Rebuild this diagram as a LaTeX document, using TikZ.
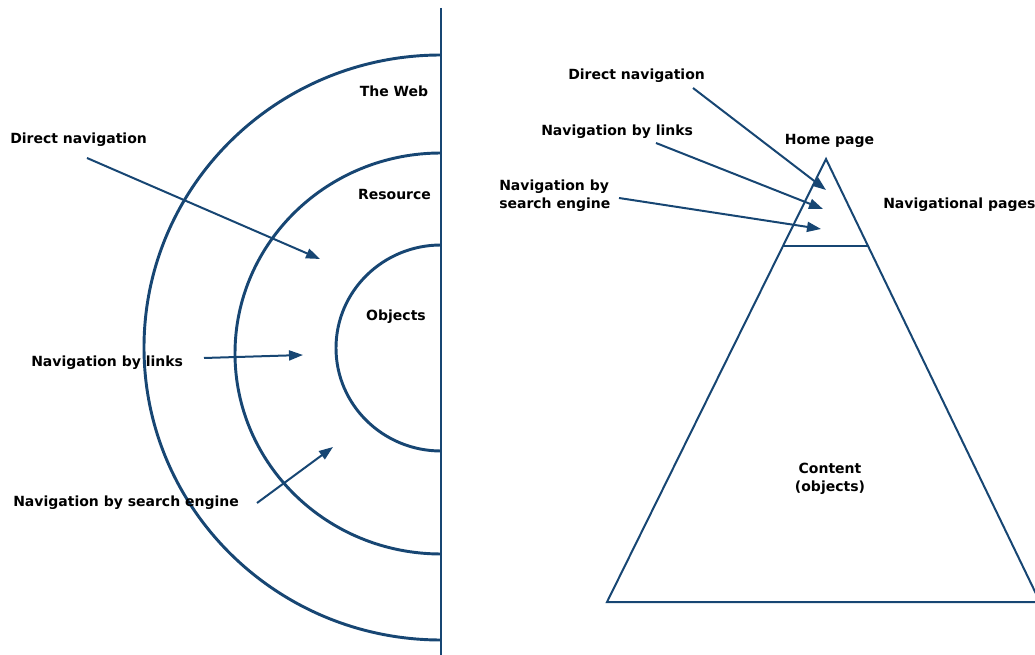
\documentclass[tikz,border=0pt]{standalone}
\usepackage{fontspec}
\setmainfont{DejaVu Sans}
\usetikzlibrary{arrows.meta,calc}
\definecolor{navy}{RGB}{23,70,115}

\begin{document}
\begin{tikzpicture}[x=0.75pt,y=0.75pt,yscale=-1,xscale=1,
  lbl/.style={inner sep=0.75pt, font=\fontsize{10.5}{13.5}\selectfont\bfseries},
  ring/.style={draw=navy, line width=2.2pt},
  edge/.style={draw=navy, line width=1.5pt},
  conn/.style={draw=navy, line width=1.5pt, -{Triangle[length=10.5pt,width=7.5pt]}}]
\useasboundingbox (0,0) rectangle (1035,655);
\clip (0,0) rectangle (1035,655);

% Shape: Axis
\draw [edge] (441,8) -- (441,655);
% Shape: Arc
\draw [ring] (441,55) arc[start angle=270, end angle=90, x radius=297, y radius=292.5];
% Shape: Arc
\draw [ring] (441,153) arc[start angle=270, end angle=90, x radius=206, y radius=200.5];
% Shape: Arc
\draw [ring] (441,245) arc[start angle=270, end angle=90, x radius=105, y radius=103];

% Shape: Triangle
\coordinate (apex) at (826,159);
\coordinate (bl) at (607,602);
\coordinate (br) at (1040,602);
\draw [edge, line join=miter] (apex) -- (bl) -- (br) -- cycle;
\draw [edge] ($(apex)!0.196!(bl)$) -- ($(apex)!0.196!(br)$);

% Text Node
\node [lbl, anchor=base west] (ldirect) at (9,143.5) {Direct navigation};
% Text Node
\node [lbl, anchor=base west] (llinks) at (30,367) {Navigation by links};
% Text Node
\node [lbl, anchor=base west] (lsearch) at (12,507) {Navigation by search engine};
% Text Node
\node [lbl, anchor=base] (web) at (394,97) {The Web};
% Text Node
\node [lbl, anchor=base] (res) at (394.5,200) {Resource};
% Text Node
\node [lbl, anchor=base] (obj) at (396,321) {Objects};
% Text Node
\node [lbl, anchor=base west] (rdirect) at (567,80) {Direct navigation};
% Text Node
\node [lbl, anchor=base west] (rlinks) at (540,136) {Navigation by links};
% Text Node
\node [lbl, anchor=base west, align=left] (rsearch) at (498,209) {Navigation by\\search engine};
% Text Node
\node [lbl, anchor=base] (home) at (829.5,145) {Home page};
% Text Node
\node [lbl, anchor=base west] (navpages) at (882,209) {Navigational pages};
% Text Node
\node [lbl, anchor=base, align=center] (content) at (830,492) {Content\\(objects)};

% Connection
\coordinate (ldirect-s) at (87,158);
\coordinate (ldirect-t) at (320,259);
\draw [conn] (ldirect-s) -- (ldirect-t);
% Connection
\coordinate (llinks-s) at (204,358);
\coordinate (llinks-t) at (303,355);
\draw [conn] (llinks-s) -- (llinks-t);
% Connection
\coordinate (lsearch-s) at (257,503);
\coordinate (lsearch-t) at (333,447);
\draw [conn] (lsearch-s) -- (lsearch-t);
% Connection
\coordinate (rdirect-s) at (693,88);
\coordinate (rdirect-t) at (826,190);
\draw [conn] (rdirect-s) -- (rdirect-t);
% Connection
\coordinate (rlinks-s) at (656,143);
\coordinate (rlinks-t) at (823,209);
\draw [conn] (rlinks-s) -- (rlinks-t);
% Connection
\coordinate (rsearch-s) at (619,198);
\coordinate (rsearch-t) at (821,229);
\draw [conn] (rsearch-s) -- (rsearch-t);

\end{tikzpicture}
\end{document}
